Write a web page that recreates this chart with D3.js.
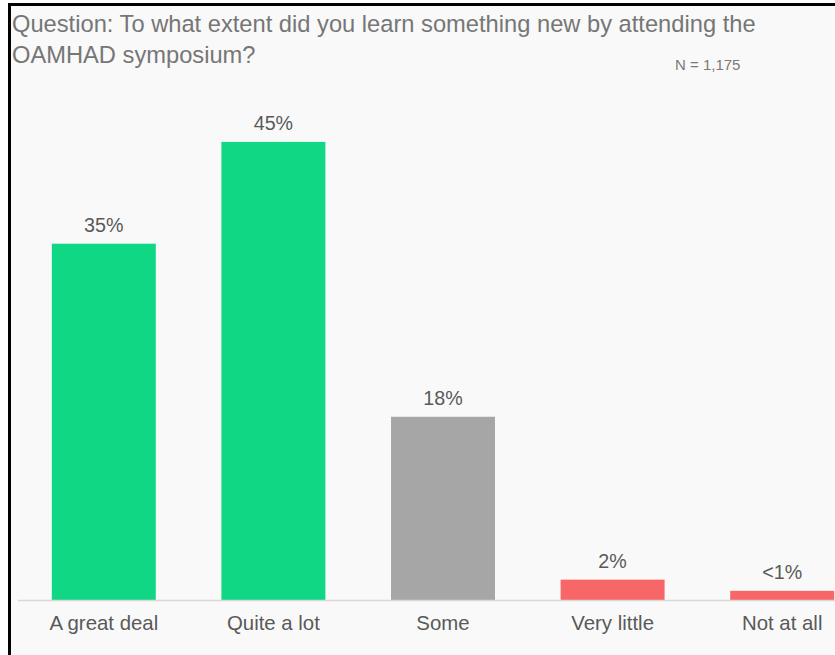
<!DOCTYPE html>
<html>
<head>
<meta charset="utf-8">
<script src="https://cdn.jsdelivr.net/npm/d3@7"></script>
<style>
  html, body { margin: 0; padding: 0; background: #ffffff; }
  svg { display: block; font-family: "Liberation Sans", Arial, sans-serif; }
</style>
</head>
<body>
<svg id="chart" width="835" height="655"></svg>
<script>
// Survey responses (percent of respondents)
const categories = ["A great deal", "Quite a lot", "Some", "Very little", "Not at all"];
const values = [35, 45, 18, 2, 0.9];
const valueLabels = ["35%", "45%", "18%", "2%", "<1%"];
const barColors = ["#10d784", "#10d784", "#a6a6a6", "#f76767", "#f76767"];
const titleLines = [
  "Question: To what extent did you learn something new by attending the",
  "OAMHAD symposium?"
];
const sampleNote = "N = 1,175";

const W = 835, H = 655;
const svg = d3.select("#chart");

// Panel background with dark top/left frame
svg.append("rect").attr("x", 8).attr("y", 3).attr("width", W - 8).attr("height", H - 3)
  .attr("fill", "#f9f9f9");
svg.append("rect").attr("x", 8).attr("y", 3).attr("width", 3).attr("height", H - 3)
  .attr("fill", "#000");
svg.append("rect").attr("x", 8).attr("y", 3).attr("width", W - 8).attr("height", 3)
  .attr("fill", "#000");

// Title
svg.append("g").selectAll("text").data(titleLines).join("text")
  .attr("x", 12)
  .attr("y", (d, i) => 32 + i * 31)
  .attr("font-size", 23.7)
  .attr("fill", "#767676")
  .text(d => d);

svg.append("text")
  .attr("x", 675).attr("y", 70)
  .attr("font-size", 15)
  .attr("fill", "#7a7a7a")
  .text(sampleNote);

// Scales
const x = d3.scaleBand()
  .domain(categories)
  .range([19, 867])
  .paddingInner(0.387)
  .paddingOuter(0.1935);

const baseline = 600;
const y = d3.scaleLinear().domain([0, 10]).range([baseline, baseline - 101.8]);

// Bars
svg.append("g").selectAll("rect").data(values).join("rect")
  .attr("x", (d, i) => x(categories[i]))
  .attr("width", x.bandwidth())
  .attr("y", d => y(d))
  .attr("height", d => baseline - y(d))
  .attr("fill", (d, i) => barColors[i]);

// Value labels
svg.append("g").selectAll("text").data(values).join("text")
  .attr("x", (d, i) => x(categories[i]) + x.bandwidth() / 2)
  .attr("y", d => y(d) - 12)
  .attr("text-anchor", "middle")
  .attr("font-size", 19.7)
  .attr("fill", "#595959")
  .text((d, i) => valueLabels[i]);

// Category axis
const axis = svg.append("g")
  .attr("transform", `translate(0,${baseline})`)
  .call(d3.axisBottom(x).tickSize(0).tickPadding(16));
axis.select(".domain").attr("stroke", "#d9d9d9").attr("stroke-width", 1.5)
  .attr("d", `M18,0.5H${W}`);
axis.selectAll(".tick text")
  .attr("font-size", 20.4)
  .attr("font-family", "\"Liberation Sans\", Arial, sans-serif")
  .attr("fill", "#595959");
</script>
</body>
</html>
